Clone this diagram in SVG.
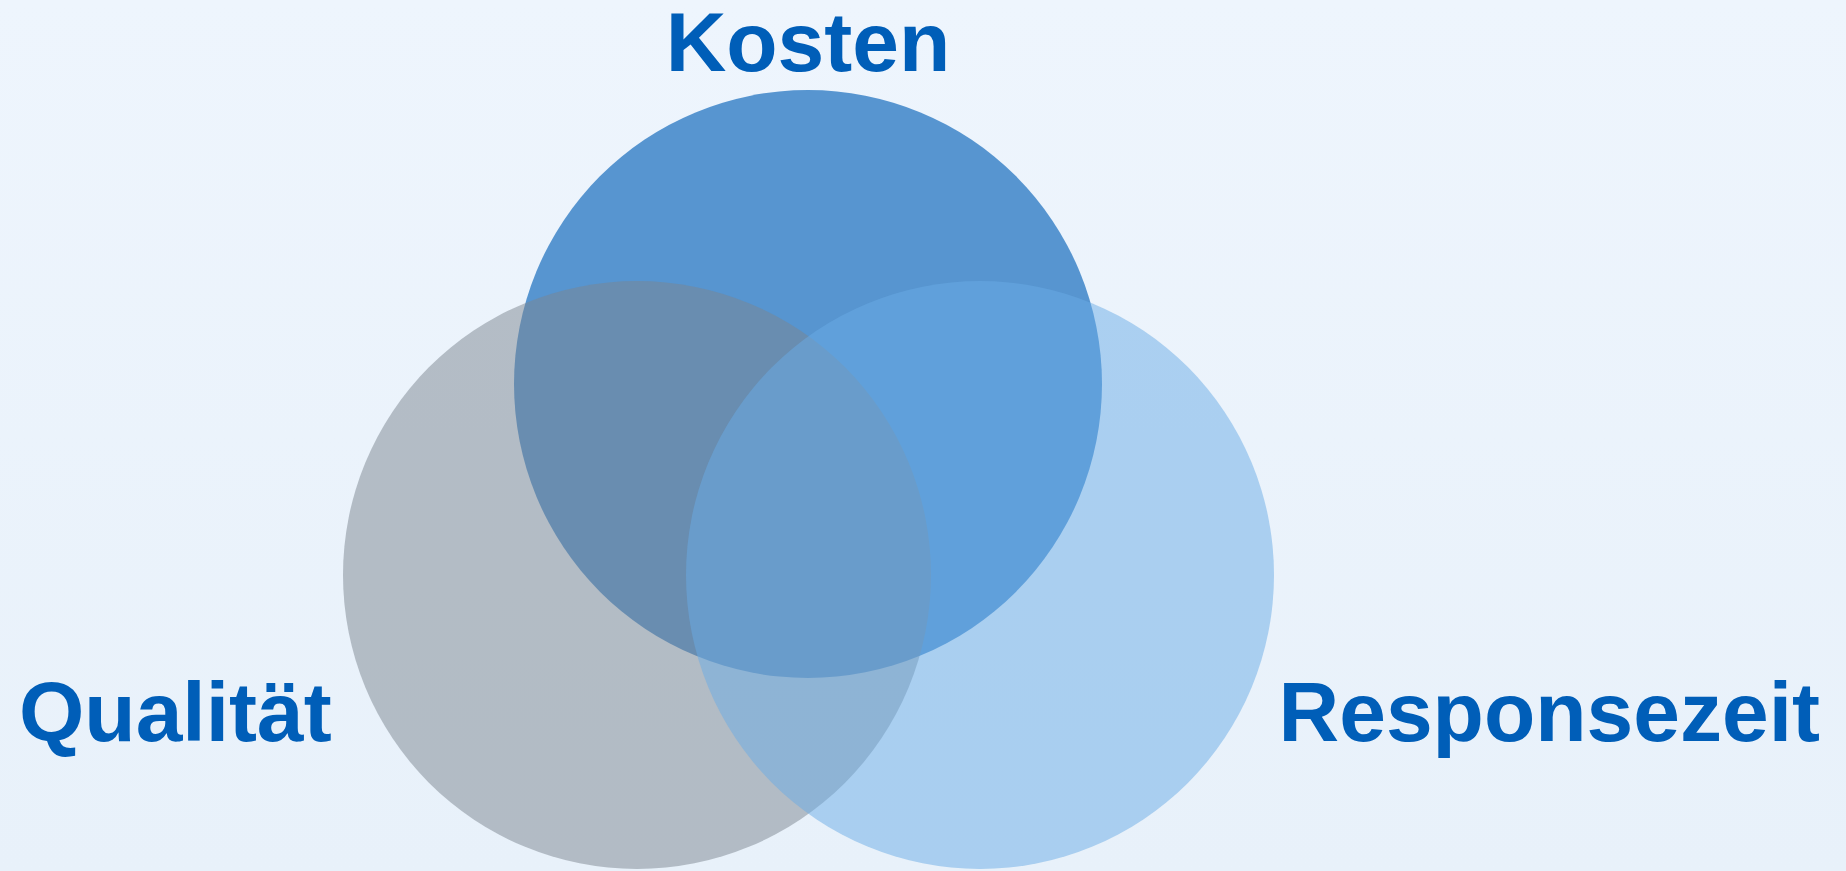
<svg xmlns="http://www.w3.org/2000/svg" width="1846" height="871" viewBox="0 0 1846 871">
  <defs>
    <linearGradient id="bg" x1="0" y1="0" x2="0" y2="1">
      <stop offset="0" stop-color="#EEF5FD"/>
      <stop offset="1" stop-color="#E8F1FA"/>
    </linearGradient>
    <style>
      .label { font-family: "Liberation Sans", Arial, sans-serif; font-weight: bold; font-size: 84px; fill: #005EB8; }
      .c-kosten { fill: #5795D0; }
      .c-qual { fill: #7C8690; fill-opacity: 0.5; }
      .c-resp { fill: #6AACE5; fill-opacity: 0.5; }
    </style>
  </defs>
  <rect x="0" y="0" width="1846" height="871" fill="url(#bg)"/>
  <g id="kosten">
    <circle class="c-kosten" cx="808" cy="384" r="294"/>
    <text class="label" x="808" y="71" text-anchor="middle">Kosten</text>
  </g>
  <g id="qualitaet">
    <circle class="c-qual" cx="637" cy="575" r="294"/>
    <text class="label" x="19" y="741">Qualität</text>
  </g>
  <g id="responsezeit">
    <circle class="c-resp" cx="980" cy="575" r="294"/>
    <text class="label" x="1820" y="741" text-anchor="end">Responsezeit</text>
  </g>
  <g id="connectors"></g>
</svg>
